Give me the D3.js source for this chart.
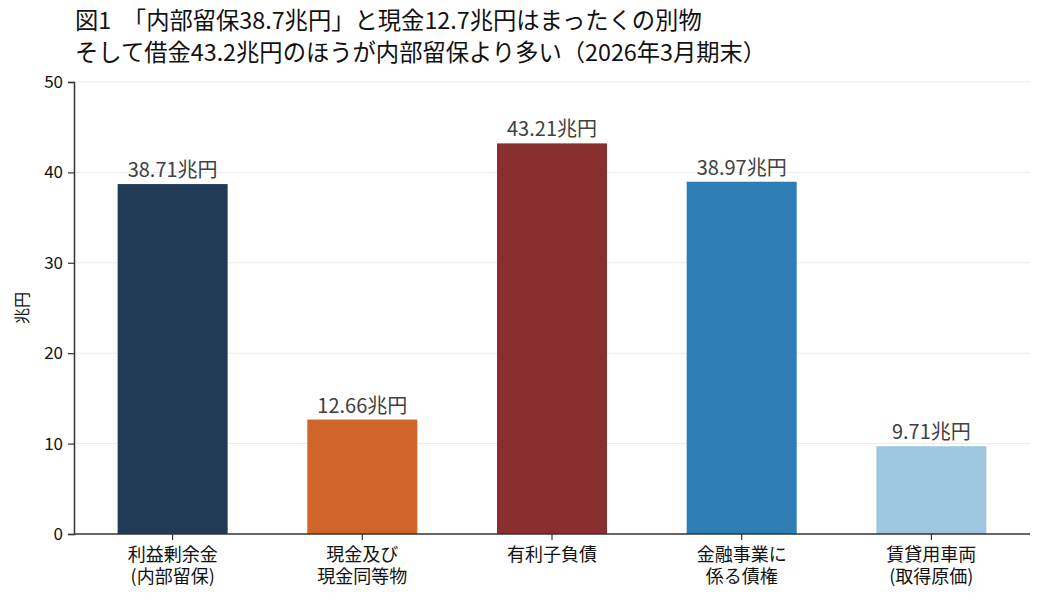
<!DOCTYPE html>
<html>
<head>
<meta charset="utf-8">
<script src="https://cdn.jsdelivr.net/npm/d3@7"></script>
<style>
    body { margin: 0; background: #fff; }
    svg { font-family: "Noto Sans CJK JP", "Noto Sans", sans-serif; }
</style>
</head>
<body>
<svg id="chart" width="1043" height="601"></svg>
<script>
const categories = [["利益剰余金", "(内部留保)"], ["現金及び", "現金同等物"], ["有利子負債"], ["金融事業に", "係る債権"], ["賃貸用車両", "(取得原価)"]];
const values = [38.71, 12.66, 43.21, 38.97, 9.71];
const colors = ["#213a56", "#d0652b", "#8b2e30", "#2e7db5", "#9dc6df"];
const yTicks = [0, 10, 20, 30, 40, 50];
const titleLines = ["図1　「内部留保38.7兆円」と現金12.7兆円はまったくの別物", "そして借金43.2兆円のほうが内部留保より多い（2026年3月期末）"];

const padLeft = 74, padRight = 1030, padTop = 82, padBottom = 534;
const svg = d3.select("#chart");

let xScale = d3.scaleBand()
    .domain(d3.range(values.length))
    .range([padLeft, padRight])
    .paddingInner(0.42)
    .paddingOuter(0.23);

let yScale = d3.scaleLinear()
    .domain([0, 50])
    .range([padBottom, padTop]);

// grid
svg.append("g")
    .selectAll("line")
    .data(yTicks.slice(1))
    .enter()
    .append("line")
    .attr("x1", padLeft)
    .attr("x2", padRight)
    .attr("y1", d => yScale(d))
    .attr("y2", d => yScale(d))
    .attr("stroke", "#ebebeb")
    .attr("stroke-width", 1);

// bars
svg.append("g")
    .selectAll("rect")
    .data(values)
    .enter()
    .append("rect")
    .attr("x", (d, i) => xScale(i))
    .attr("y", d => yScale(d))
    .attr("width", xScale.bandwidth())
    .attr("height", d => padBottom - yScale(d))
    .attr("fill", (d, i) => colors[i]);

// value labels
svg.append("g")
    .selectAll("text")
    .data(values)
    .enter()
    .append("text")
    .attr("x", (d, i) => xScale(i) + xScale.bandwidth() / 2)
    .attr("y", d => yScale(d) - 7)
    .attr("text-anchor", "middle")
    .attr("font-size", 20)
    .attr("fill", "#404040")
    .text(d => d.toFixed(2) + "兆円");

// y axis
let yAxis = svg.append("g")
    .attr("transform", `translate(${padLeft},0)`)
    .call(d3.axisLeft(yScale).tickValues(yTicks).tickSize(6).tickPadding(5));
yAxis.select(".domain").attr("stroke", "#333").attr("stroke-width", 1.5);
yAxis.selectAll(".tick line").attr("stroke", "#333").attr("stroke-width", 1.2);
yAxis.selectAll(".tick text").attr("font-size", 17).attr("fill", "#111")
    .attr("font-family", "'Noto Sans CJK JP', sans-serif");

// x axis
let xAxis = svg.append("g")
    .attr("transform", `translate(0,${padBottom})`)
    .call(d3.axisBottom(xScale).tickSize(6).tickFormat(""));
xAxis.select(".domain").attr("stroke", "#333").attr("stroke-width", 1.5)
    .attr("d", `M${padLeft},0H${padRight}`);
xAxis.selectAll(".tick line").attr("stroke", "#333").attr("stroke-width", 1.2);

let catLabels = svg.append("g")
    .selectAll("text")
    .data(categories)
    .enter()
    .append("text")
    .attr("text-anchor", "middle")
    .attr("font-size", 18)
    .attr("fill", "#111")
    .attr("transform", (d, i) => `translate(${xScale(i) + xScale.bandwidth() / 2}, ${padBottom + 27})`);
catLabels.selectAll("tspan")
    .data(d => d)
    .enter()
    .append("tspan")
    .attr("x", 0)
    .attr("dy", (d, i) => i == 0 ? 0 : 21.5)
    .text(d => d);

// y label
svg.append("text")
    .attr("transform", `translate(28, ${(padTop + padBottom) / 2}) rotate(-90)`)
    .attr("text-anchor", "middle")
    .attr("font-size", 16)
    .attr("fill", "#111")
    .text("兆円");

// title
svg.append("g")
    .selectAll("text")
    .data(titleLines)
    .enter()
    .append("text")
    .attr("x", 75)
    .attr("y", (d, i) => 29 + i * 32)
    .attr("font-size", 23.3)
    .attr("fill", "#111")
    .text(d => d);
</script>
</body>
</html>
